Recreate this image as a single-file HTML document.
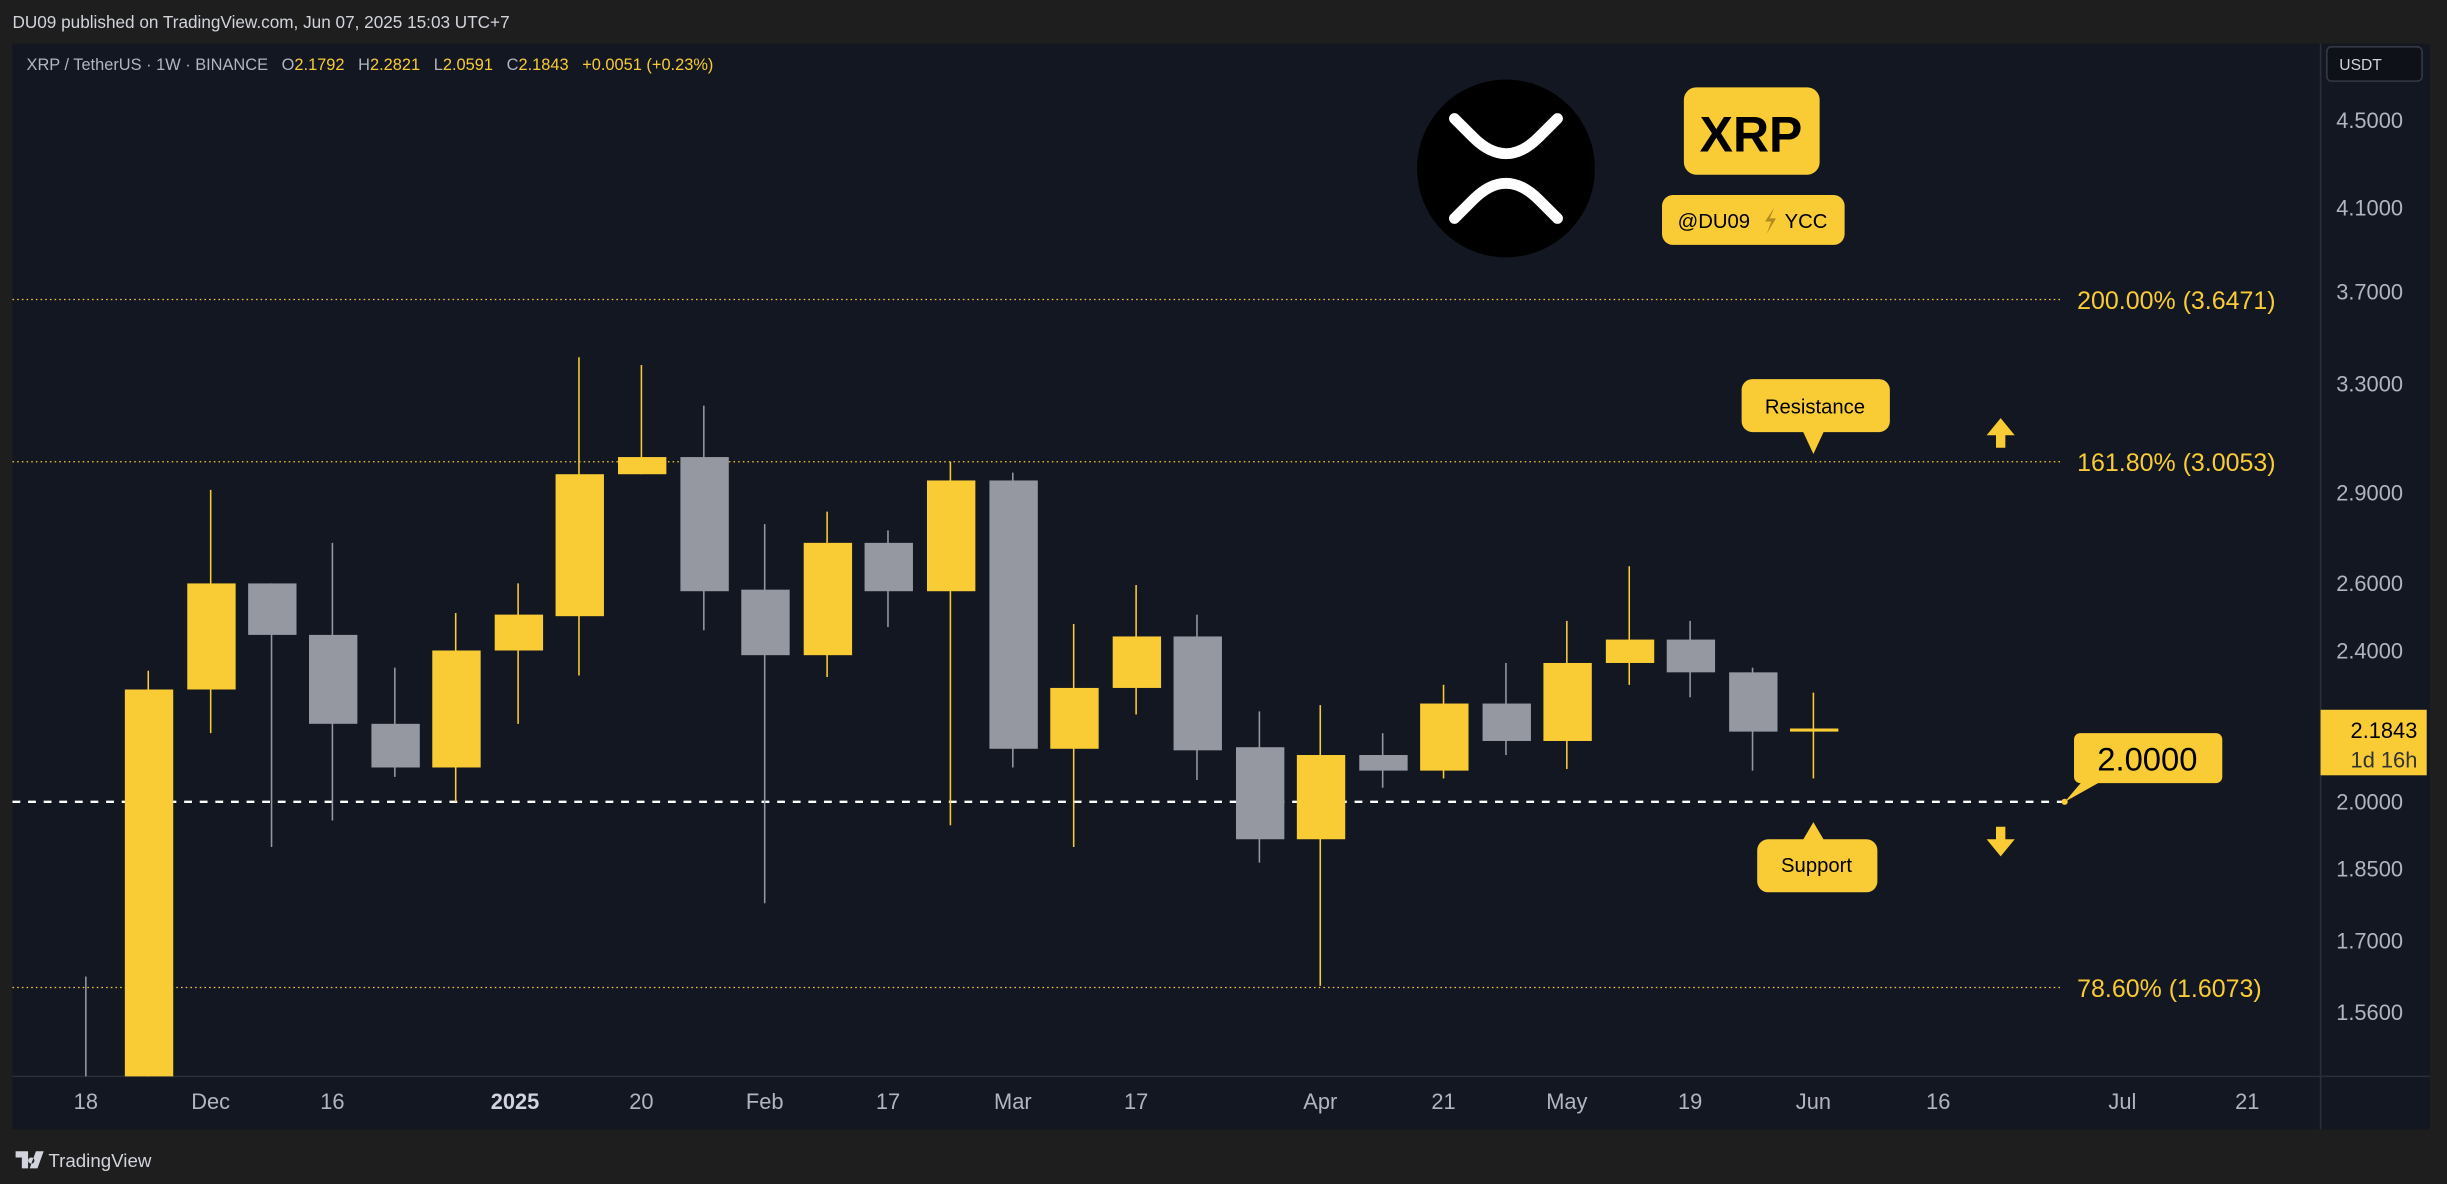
<!DOCTYPE html>
<html><head><meta charset="utf-8"><style>
html,body{margin:0;padding:0;background:#1e1e1e;width:2447px;height:1184px;overflow:hidden}
svg{display:block}
text{font-family:"Liberation Sans",sans-serif}
</style></head><body>
<svg width="2447" height="1184" viewBox="0 0 1568 759" preserveAspectRatio="none" xmlns="http://www.w3.org/2000/svg">
<rect x="0" y="0" width="1568" height="759" fill="#1e1e1e"/>
<text x="8" y="18" font-size="11" fill="#d1d4dc">DU09 published on TradingView.com, Jun 07, 2025 15:03 UTC+7</text>
<rect x="8" y="28" width="1549" height="696" fill="#131722"/>
<line x1="1487" y1="28" x2="1487" y2="724" stroke="#2a2e39"/>
<line x1="8" y1="690" x2="1557" y2="690" stroke="#2a2e39"/>
<text x="17" y="45" font-size="10.5" fill="#b2b5be" xml:space="preserve">XRP / TetherUS · 1W · BINANCE   O<tspan fill="#f9cc35">2.1792</tspan>   H<tspan fill="#f9cc35">2.2821</tspan>   L<tspan fill="#f9cc35">2.0591</tspan>   C<tspan fill="#f9cc35">2.1843   +0.0051 (+0.23%)</tspan></text>
<rect x="1491" y="30" width="61" height="22" rx="3" fill="#0f1118" stroke="#363a45"/>
<text x="1499" y="45" font-size="10" fill="#d1d4dc">USDT</text>
<g font-size="14" fill="#b2b5be">
<text x="1497" y="82">4.5000</text><text x="1497" y="138">4.1000</text><text x="1497" y="192">3.7000</text>
<text x="1497" y="251">3.3000</text><text x="1497" y="321">2.9000</text><text x="1497" y="379">2.6000</text>
<text x="1497" y="422">2.4000</text><text x="1497" y="519">2.0000</text><text x="1497" y="562">1.8500</text>
<text x="1497" y="608">1.7000</text><text x="1497" y="654">1.5600</text>
</g>
<g font-size="14" fill="#b2b5be" text-anchor="middle">
<text x="55" y="711">18</text><text x="135" y="711">Dec</text><text x="213" y="711">16</text>
<text x="330" y="711" font-weight="bold" fill="#d1d4dc">2025</text><text x="411" y="711">20</text>
<text x="490" y="711">Feb</text><text x="569" y="711">17</text><text x="649" y="711">Mar</text>
<text x="728" y="711">17</text><text x="846" y="711">Apr</text><text x="925" y="711">21</text>
<text x="1004" y="711">May</text><text x="1083" y="711">19</text><text x="1162" y="711">Jun</text>
<text x="1242" y="711">16</text><text x="1360" y="711">Jul</text><text x="1440" y="711">21</text>
</g>
<g stroke="#f9cc35" stroke-width="0.8" stroke-dasharray="1 2">
<line x1="8" y1="192" x2="1320" y2="192"/><line x1="8" y1="296" x2="1320" y2="296"/><line x1="8" y1="633" x2="1320" y2="633"/>
</g>
<g font-size="16" fill="#f9cc35">
<text x="1331" y="198">200.00% (3.6471)</text><text x="1331" y="302">161.80% (3.0053)</text><text x="1331" y="639">78.60% (1.6073)</text>
</g>
<line x1="8" y1="514" x2="1322" y2="514" stroke="#ffffff" stroke-width="1.5" stroke-dasharray="5 5"/>
<g>
<line x1="55" y1="626" x2="55" y2="690" stroke="#9598a1"/>
<line x1="95" y1="430" x2="95" y2="690" stroke="#f9cc35"/><rect x="80" y="442" width="31" height="248" fill="#f9cc35"/>
<line x1="135" y1="314" x2="135" y2="470" stroke="#f9cc35"/><rect x="120" y="374" width="31" height="68" fill="#f9cc35"/>
<line x1="174" y1="374" x2="174" y2="543" stroke="#9598a1"/><rect x="159" y="374" width="31" height="33" fill="#9598a1"/>
<line x1="213" y1="348" x2="213" y2="526" stroke="#9598a1"/><rect x="198" y="407" width="31" height="57" fill="#9598a1"/>
<line x1="253" y1="428" x2="253" y2="498" stroke="#9598a1"/><rect x="238" y="464" width="31" height="28" fill="#9598a1"/>
<line x1="292" y1="393" x2="292" y2="514" stroke="#f9cc35"/><rect x="277" y="417" width="31" height="75" fill="#f9cc35"/>
<line x1="332" y1="374" x2="332" y2="464" stroke="#f9cc35"/><rect x="317" y="394" width="31" height="23" fill="#f9cc35"/>
<line x1="371" y1="229" x2="371" y2="433" stroke="#f9cc35"/><rect x="356" y="304" width="31" height="91" fill="#f9cc35"/>
<line x1="411" y1="234" x2="411" y2="304" stroke="#f9cc35"/><rect x="396" y="293" width="31" height="11" fill="#f9cc35"/>
<line x1="451" y1="260" x2="451" y2="404" stroke="#9598a1"/><rect x="436" y="293" width="31" height="86" fill="#9598a1"/>
<line x1="490" y1="336" x2="490" y2="579" stroke="#9598a1"/><rect x="475" y="378" width="31" height="42" fill="#9598a1"/>
<line x1="530" y1="328" x2="530" y2="434" stroke="#f9cc35"/><rect x="515" y="348" width="31" height="72" fill="#f9cc35"/>
<line x1="569" y1="340" x2="569" y2="402" stroke="#9598a1"/><rect x="554" y="348" width="31" height="31" fill="#9598a1"/>
<line x1="609" y1="296" x2="609" y2="529" stroke="#f9cc35"/><rect x="594" y="308" width="31" height="71" fill="#f9cc35"/>
<line x1="649" y1="303" x2="649" y2="492" stroke="#9598a1"/><rect x="634" y="308" width="31" height="172" fill="#9598a1"/>
<line x1="688" y1="400" x2="688" y2="543" stroke="#f9cc35"/><rect x="673" y="441" width="31" height="39" fill="#f9cc35"/>
<line x1="728" y1="375" x2="728" y2="458" stroke="#f9cc35"/><rect x="713" y="408" width="31" height="33" fill="#f9cc35"/>
<line x1="767" y1="394" x2="767" y2="500" stroke="#9598a1"/><rect x="752" y="408" width="31" height="73" fill="#9598a1"/>
<line x1="807" y1="456" x2="807" y2="553" stroke="#9598a1"/><rect x="792" y="479" width="31" height="59" fill="#9598a1"/>
<line x1="846" y1="452" x2="846" y2="632" stroke="#f9cc35"/><rect x="831" y="484" width="31" height="54" fill="#f9cc35"/>
<line x1="886" y1="470" x2="886" y2="505" stroke="#9598a1"/><rect x="871" y="484" width="31" height="10" fill="#9598a1"/>
<line x1="925" y1="439" x2="925" y2="499" stroke="#f9cc35"/><rect x="910" y="451" width="31" height="43" fill="#f9cc35"/>
<line x1="965" y1="425" x2="965" y2="484" stroke="#9598a1"/><rect x="950" y="451" width="31" height="24" fill="#9598a1"/>
<line x1="1004" y1="398" x2="1004" y2="493" stroke="#f9cc35"/><rect x="989" y="425" width="31" height="50" fill="#f9cc35"/>
<line x1="1044" y1="363" x2="1044" y2="439" stroke="#f9cc35"/><rect x="1029" y="410" width="31" height="15" fill="#f9cc35"/>
<line x1="1083" y1="398" x2="1083" y2="447" stroke="#9598a1"/><rect x="1068" y="410" width="31" height="21" fill="#9598a1"/>
<line x1="1123" y1="428" x2="1123" y2="494" stroke="#9598a1"/><rect x="1108" y="431" width="31" height="38" fill="#9598a1"/>
<line x1="1162" y1="444" x2="1162" y2="499" stroke="#f9cc35"/><rect x="1147" y="467" width="31" height="2" fill="#f9cc35"/>
</g>
<circle cx="965" cy="108" r="57" fill="#000"/>
<g fill="none" stroke="#fff" stroke-width="7" stroke-linecap="round">
<path d="M932 76 L944 88 Q965 109 986 88 L998 76"/>
<path d="M932 140 L944 128 Q965 107 986 128 L998 140"/>
</g>
<rect x="1079" y="56" width="87" height="56" rx="8" fill="#f9cc35"/>
<text x="1122" y="97" font-size="32" font-weight="bold" text-anchor="middle" fill="#000">XRP</text>
<rect x="1065" y="125" width="117" height="32" rx="7" fill="#f9cc35"/>
<text x="1075" y="146" font-size="13" fill="#000">@DU09</text>
<text x="1171" y="146" font-size="13" fill="#000" text-anchor="end">YCC</text>
<path d="M1137 133 L1131 142 L1135 142 L1132 150 L1138 140 L1134 140Z" fill="#b08a20"/>
<rect x="1116" y="243" width="95" height="34" rx="7" fill="#f9cc35"/>
<path d="M1155 276 L1169 276 L1162 291Z" fill="#f9cc35"/>
<text x="1163" y="265" font-size="13" text-anchor="middle" fill="#000">Resistance</text>
<path d="M1282 268 L1291 279 L1285 279 L1285 287 L1279 287 L1279 279 L1273 279Z" fill="#f9cc35"/>
<rect x="1126" y="538" width="77" height="34" rx="7" fill="#f9cc35"/>
<path d="M1155 539 L1169 539 L1162 527Z" fill="#f9cc35"/>
<text x="1164" y="559" font-size="13" text-anchor="middle" fill="#000">Support</text>
<path d="M1279 530 L1285 530 L1285 538 L1291 538 L1282 549 L1273 538 L1279 538Z" fill="#f9cc35"/>
<rect x="1329" y="470" width="95" height="32" rx="4" fill="#f9cc35"/>
<path d="M1335 500 L1348 500 L1323 514Z" fill="#f9cc35"/>
<circle cx="1323" cy="514" r="2" fill="#f9cc35"/>
<text x="1376" y="494" font-size="21" text-anchor="middle" fill="#000">2.0000</text>
<rect x="1487" y="455" width="68" height="42" fill="#f9cc35"/>
<text x="1549" y="473" font-size="14" text-anchor="end" fill="#000">2.1843</text>
<text x="1549" y="492" font-size="14" text-anchor="end" fill="#333">1d 16h</text>
<path d="M10 738 L18 738 L18 749 L14 749 L14 742 L10 742Z M20 742 a2 2 0 1 0 0.1 0Z M23 738 L28 738 L24 749 L19 749Z" fill="#d1d4dc"/>
<text x="31" y="748" font-size="12" fill="#d1d4dc">TradingView</text>
</svg>
</body></html>
